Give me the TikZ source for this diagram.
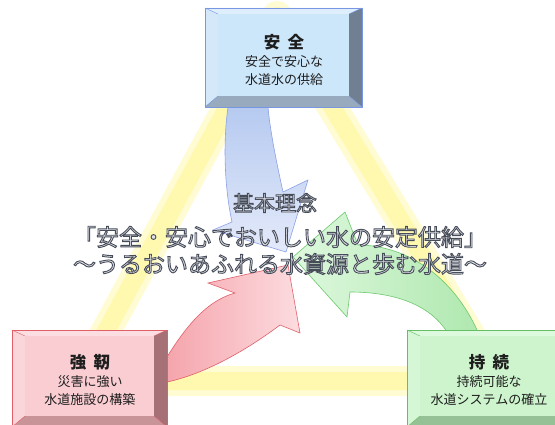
\documentclass[tikz,border=0pt]{standalone}
\usepackage{fontspec}
\setmainfont{Noto Sans CJK JP}
\definecolor{bl-face}{RGB}{204,230,250}
\definecolor{bl-top}{RGB}{222,238,252}
\definecolor{bl-left}{RGB}{212,232,250}
\definecolor{bl-right}{RGB}{112,128,146}
\definecolor{bl-bottom}{RGB}{152,170,190}
\definecolor{bl-border}{RGB}{120,150,225}
\definecolor{rd-face}{RGB}{250,205,210}
\definecolor{rd-top}{RGB}{252,222,226}
\definecolor{rd-left}{RGB}{250,214,218}
\definecolor{rd-right}{RGB}{165,112,118}
\definecolor{rd-bottom}{RGB}{200,148,152}
\definecolor{rd-border}{RGB}{225,95,105}
\definecolor{gr-face}{RGB}{205,244,205}
\definecolor{gr-top}{RGB}{222,250,222}
\definecolor{gr-left}{RGB}{214,247,214}
\definecolor{gr-right}{RGB}{115,165,115}
\definecolor{gr-bottom}{RGB}{150,192,150}
\definecolor{gr-border}{RGB}{100,190,100}
\definecolor{bandout}{RGB}{255,252,212}
\definecolor{bandin}{RGB}{255,249,175}
\definecolor{txtfill}{RGB}{226,228,234}
\definecolor{boxtext}{RGB}{30,30,30}
\newcommand\outltext[1]{{\color{txtfill}\special{pdf:literal direct 2 Tr 0.9 w 0.28 0.30 0.35 RG}#1\special{pdf:literal direct 0 Tr}}}
\newcommand\bvbox[5]{%
  \fill[#5-top] (#1,#2) -- (#3,#2) -- ({#3-13},{#2+6}) -- ({#1+13},{#2+6}) -- cycle;
  \fill[#5-left] (#1,#2) -- ({#1+13},{#2+6}) -- ({#1+13},{#4-11}) -- (#1,#4) -- cycle;
  \fill[#5-right] (#3,#2) -- (#3,#4) -- ({#3-13},{#4-11}) -- ({#3-13},{#2+6}) -- cycle;
  \fill[#5-bottom] (#1,#4) -- (#3,#4) -- ({#3-13},{#4-11}) -- ({#1+13},{#4-11}) -- cycle;
  \fill[#5-face] ({#1+13},{#2+6}) rectangle ({#3-13},{#4-11});
  \draw[#5-border, line width=0.6pt] (#1,#2) rectangle (#3,#4);
  \draw[#5-border, line width=0.4pt] (#1,#2) -- ({#1+13},{#2+6}) (#3,#2) -- ({#3-13},{#2+6})
     (#1,#4) -- ({#1+13},{#4-11}) (#3,#4) -- ({#3-13},{#4-11});
}
\tikzset{
  ttl/.style={font=\bfseries\fontsize{16.5}{18}\selectfont, text=boxtext, inner sep=0pt},
  sub/.style={font=\fontsize{13}{15}\selectfont, text=boxtext, inner sep=0pt},
  ctr/.style={inner sep=0pt},
}
\begin{document}
\begin{tikzpicture}[x=1pt,y=-1pt]
\useasboundingbox (0,0) rectangle (555,425);
\fill[white] (0,0) rectangle (555,425);
% yellow triangle band
\draw[bandout, line width=30pt, line join=round] (277,16) -- (79,381) -- (498,381) -- cycle;
\draw[bandin, line width=18pt, line join=round] (277,16) -- (79,381) -- (498,381) -- cycle;
% arrows
\path[draw=rd-border, line width=0.6pt, left color={rgb,255:red,245;green,165;blue,172}, right color={rgb,255:red,252;green,220;blue,224}]
  (167,357) .. controls (190,320) and (210,300) .. (235,293) -- (208,283) -- (288,265)
  -- (300,333) -- (280,325) .. controls (240,355) and (200,375) .. (167,382) -- cycle;
\path[draw={rgb,255:red,110;green,200;blue,110}, line width=0.6pt, right color={rgb,255:red,175;green,232;blue,175}, left color={rgb,255:red,222;green,248;blue,222}]
  (478,332) .. controls (450,270) and (400,245) .. (358,245) -- (345,212) -- (293,257)
  -- (347,317) -- (350,292) .. controls (395,292) and (430,305) .. (447,332) -- cycle;
\path[draw={rgb,255:red,140;green,160;blue,230}, line width=0.6pt, top color={rgb,255:red,182;green,202;blue,240}, bottom color={rgb,255:red,228;green,234;blue,250}]
  (228,107) .. controls (222,150) and (226,195) .. (232,222) -- (213,230) -- (286,252)
  -- (308,180) -- (283,192) .. controls (276,160) and (270,130) .. (268,107) -- cycle;
% boxes
\bvbox{205}{8}{362}{107}{bl}
\bvbox{12}{330}{167}{427}{rd}
\bvbox{407}{330}{572}{427}{gr}
\node[ttl] (t1) at (284,42) {安\hspace{0.45em}全};
\node[sub] (t2) at (284,62) {安全で安心な};
\node[sub] (t3) at (284,80) {水道水の供給};
\node[ttl] (l1) at (90,362) {強\hspace{0.45em}靭};
\node[sub] (l2) at (90,382) {災害に強い};
\node[sub] (l3) at (90,400) {水道施設の構築};
\node[ttl] (r1) at (489,362) {持\hspace{0.45em}続};
\node[sub] (r2) at (489,382) {持続可能な};
\node[sub] (r3) at (489,400) {水道システムの確立};
% center text
\node[ctr, font=\fontsize{21}{24}\selectfont] (c1) at (275,203) {\outltext{基本理念}};
\node[ctr, font=\fontsize{23}{26}\selectfont] (c2) at (280,237) {\outltext{「安全・安心でおいしい水の安定供給」}};
\node[ctr, font=\fontsize{23}{26}\selectfont] (c3) at (280,264) {\outltext{〜うるおいあふれる水資源と歩む水道〜}};
\end{tikzpicture}
\end{document}
